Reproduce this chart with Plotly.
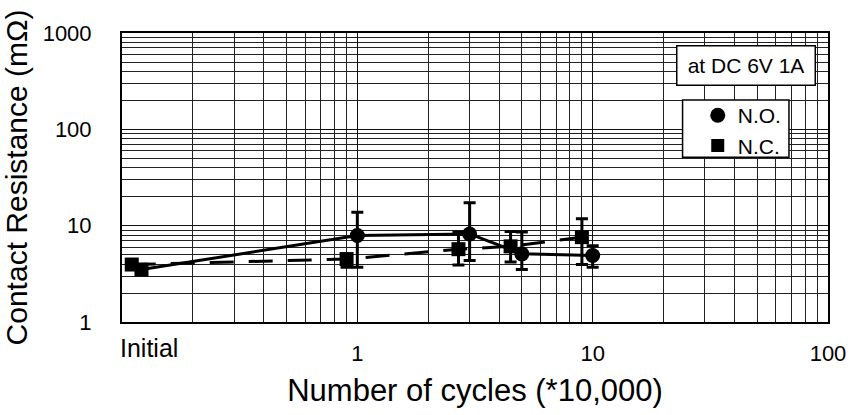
import plotly.graph_objects as go

# ---- data ----
no_x = [0.121, 1, 3, 5, 10]
no_y = [3.5, 7.9, 8.2, 5.1, 4.9]
no_hi = [None, 13.8, 17.3, 8.6, 6.2]
no_lo = [None, 3.7, 4.35, 3.5, 3.7]

nc_x = [0.110, 0.9, 2.69, 4.48, 9.0]
nc_y = [3.95, 4.5, 5.7, 6.1, 7.6]
nc_hi = [None, 4.9, 8.6, 8.7, 11.8]
nc_lo = [None, 3.7, 3.9, 4.2, 3.95]

x_tickvals = [1, 10, 100]
x_ticktext = ["1", "10", "100"]
y_tickvals = [1, 10, 100, 1000]
y_ticktext = ["1", "10", "100", "1000"]
initial_label = "Initial"
initial_x_log = -0.885

FONT = "Liberation Sans, Arial, sans-serif"


def plus(v, hi):
    return [None if h is None else h - a for a, h in zip(v, hi)]


def minus(v, lo):
    return [None if l is None else a - l for a, l in zip(v, lo)]


fig = go.Figure()

err_style = dict(type="data", symmetric=False, color="black", thickness=3, width=6)

fig.add_trace(go.Scatter(
    x=no_x, y=no_y, mode="lines+markers", showlegend=False,
    line=dict(color="black", width=3),
    marker=dict(symbol=["square"] + ["circle"] * (len(no_x) - 1),
                size=[14] + [15] * (len(no_x) - 1), color="black", opacity=1,
                line=dict(width=0, color="black")),
    error_y=dict(array=plus(no_y, no_hi), arrayminus=minus(no_y, no_lo), **err_style),
))
fig.add_trace(go.Scatter(
    x=nc_x, y=nc_y, mode="lines+markers", showlegend=False,
    line=dict(color="black", width=3, dash="24px,15px"),
    marker=dict(symbol="square", size=14, color="black", opacity=1, line=dict(width=0, color="black")),
    error_y=dict(array=plus(nc_y, nc_hi), arrayminus=minus(nc_y, nc_lo), **err_style),
))
# legend-only entries
fig.add_trace(go.Scatter(x=[None], y=[None], mode="markers", name="N.O.",
                         marker=dict(symbol="circle", size=15, color="black")))
fig.add_trace(go.Scatter(x=[None], y=[None], mode="markers", name="N.C.",
                         marker=dict(symbol="square", size=13, color="black")))

minor_vals = [m * 10 ** e for e in range(-1, 3) for m in range(2, 10)]

axis_common = dict(
    type="log", showline=True, mirror=True, linecolor="black", linewidth=2,
    showgrid=True, gridcolor="#111", gridwidth=1, zeroline=False,
    ticks="", tickfont=dict(family=FONT, size=22, color="black"),
    minor=dict(tickvals=minor_vals, showgrid=True, gridcolor="#222", gridwidth=1, ticks=""),
)

fig.update_xaxes(range=[-1, 2], tickvals=x_tickvals, ticktext=x_ticktext,
                 ticklabelstandoff=11,
                 title=dict(text="Number of cycles (*10,000)", font=dict(family=FONT, size=31, color="black"), standoff=14),
                 **axis_common)
fig.update_yaxes(range=[0, 3], tickvals=y_tickvals, ticktext=y_ticktext,
                 ticklabelstandoff=24,
                 title=dict(text="Contact Resistance (mΩ)", font=dict(family=FONT, size=30, color="black"), standoff=10),
                 **axis_common)

fig.add_annotation(x=initial_x_log, xref="x", y=0, yref="paper", yanchor="top", yshift=-10,
                   text=initial_label, showarrow=False,
                   font=dict(family=FONT, size=25, color="black"))

fig.add_annotation(x=0.8838, xref="paper", y=0.889, yref="paper",
                   xanchor="center", yanchor="middle",
                   text="at DC 6V 1A", showarrow=False,
                   font=dict(family=FONT, size=21, color="black"),
                   bgcolor="white", bordercolor="black", borderwidth=1.5, borderpad=7,
                   width=123, height=24)

# legend frame
fig.add_shape(type="rect", xref="paper", yref="paper",
              x0=0.794, x1=0.9447, y0=0.570, y1=0.768,
              line=dict(color="black", width=1.5), fillcolor="white", layer="above")

fig.update_layout(
    width=863, height=415,
    margin=dict(l=117, r=35, t=33, b=93),
    paper_bgcolor="white", plot_bgcolor="white",
    showlegend=True,
    legend=dict(x=0.8155, xanchor="left", y=0.785, yanchor="top",
                bgcolor="rgba(0,0,0,0)", borderwidth=0,
                font=dict(family=FONT, size=21, color="black"),
                itemsizing="trace", tracegroupgap=0),
    font=dict(family=FONT, color="black"),
)

fig.write_html("out.html")
